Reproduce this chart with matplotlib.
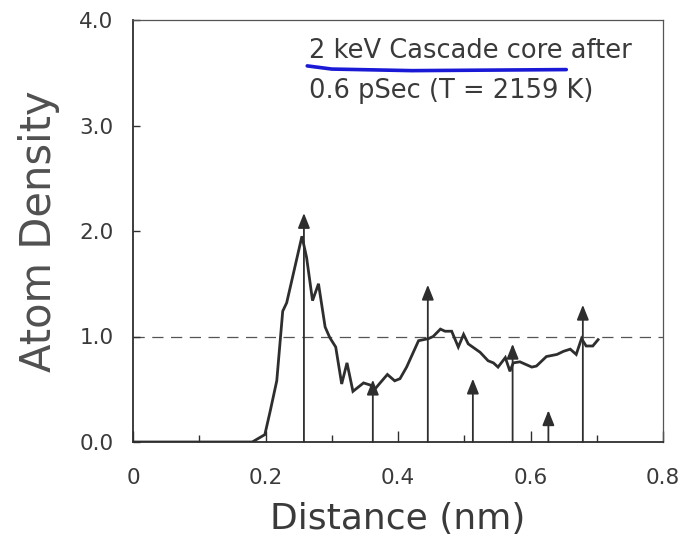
import matplotlib.pyplot as plt

# atom density profile
distance = [0.0, 0.180, 0.199, 0.207, 0.217, 0.226, 0.232, 0.255, 0.262, 0.271,
            0.280, 0.290, 0.297, 0.306, 0.315, 0.323, 0.332, 0.348, 0.358, 0.365,
            0.373, 0.384, 0.395, 0.403, 0.413, 0.431, 0.446, 0.453, 0.464, 0.471,
            0.481, 0.491, 0.499, 0.506, 0.524, 0.536, 0.544, 0.551, 0.562, 0.569,
            0.574, 0.584, 0.602, 0.609, 0.624, 0.640, 0.650, 0.660, 0.669, 0.677,
            0.684, 0.694, 0.702]
density = [0.0, 0.00, 0.07, 0.29, 0.58, 1.24, 1.32, 1.95, 1.75, 1.34,
           1.50, 1.09, 0.99, 0.90, 0.55, 0.75, 0.48, 0.56, 0.54, 0.50,
           0.56, 0.64, 0.58, 0.60, 0.71, 0.96, 0.98, 1.00, 1.07, 1.05,
           1.05, 0.90, 1.02, 0.93, 0.85, 0.77, 0.75, 0.71, 0.80, 0.67,
           0.75, 0.76, 0.71, 0.72, 0.81, 0.83, 0.86, 0.88, 0.83, 0.98,
           0.91, 0.91, 0.97]

# shell positions (arrows) and their heights
shell_x = [0.258, 0.362, 0.445, 0.513, 0.573, 0.627, 0.679]
shell_h = [2.17, 0.59, 1.49, 0.60, 0.93, 0.30, 1.30]

# hand drawn blue underline on the scan
underline_x = [0.263, 0.30, 0.421, 0.654]
underline_y = [3.565, 3.535, 3.52, 3.53]

x_major = [0, 0.2, 0.4, 0.6, 0.8]
x_labels = ["0", "0.2", "0.4", "0.6", "0.8"]
x_minor = [0.1, 0.3, 0.5, 0.7]
y_ticks = [0, 1, 2, 3, 4]
y_labels = ["0.0", "1.0", "2.0", "3.0", "4.0"]

ink = "#2e2e2e"
text_col = "#3a3a3a"

fig = plt.figure(figsize=(6.83, 5.43), dpi=100)
ax = fig.add_axes([133 / 683, 1 - 442 / 543, (663 - 133) / 683, (442 - 20) / 543])

ax.plot(distance, density, color=ink, lw=2.0, solid_joinstyle="miter", zorder=3)

for x, h in zip(shell_x, shell_h):
    ax.annotate(
        "",
        xy=(x, h),
        xytext=(x, 0),
        arrowprops=dict(arrowstyle="-|>,head_length=0.9,head_width=0.36",
                        color=ink, lw=1.3, mutation_scale=10,
                        shrinkA=0, shrinkB=0),
        zorder=4,
    )

ax.axhline(1.0, color="#555555", lw=0.9, ls=(0, (9, 6)), zorder=1)

ax.text(0.265, 3.64, "2 keV Cascade core after", fontsize=18.5,
        color=text_col, ha="left", va="baseline")
ax.text(0.265, 3.26, "0.6 pSec (T = 2159 K)", fontsize=18.5,
        color=text_col, ha="left", va="baseline")
ax.plot(underline_x, underline_y, color="#1a1ad6", lw=2.6,
        solid_capstyle="round", zorder=5)

ax.set_xlim(0, 0.8)
ax.set_ylim(0, 4.0)
ax.set_xticks(x_major)
ax.set_xticklabels(x_labels)
ax.set_xticks(x_minor, minor=True)
ax.set_yticks(y_ticks)
ax.set_yticklabels(y_labels)
ax.tick_params(axis="x", which="major", direction="in", length=8, width=1,
               color=ink, labelsize=15.5, labelcolor=text_col, pad=19)
ax.tick_params(axis="x", which="minor", direction="in", length=5, width=1,
               color=ink)
ax.tick_params(axis="y", direction="in", length=5, width=1, color=ink,
               labelsize=15.5, labelcolor=text_col, pad=14)

for side in ["left", "bottom"]:
    ax.spines[side].set_linewidth(1.3)
    ax.spines[side].set_color(ink)
for side in ["top", "right"]:
    ax.spines[side].set_linewidth(0.9)
    ax.spines[side].set_color("#555555")

ax.set_xlabel("Distance (nm)", fontsize=26, color=text_col, labelpad=10)
ax.set_ylabel("Atom Density", fontsize=30, color="#505050", labelpad=14)

plt.savefig("out.png", dpi=100)
